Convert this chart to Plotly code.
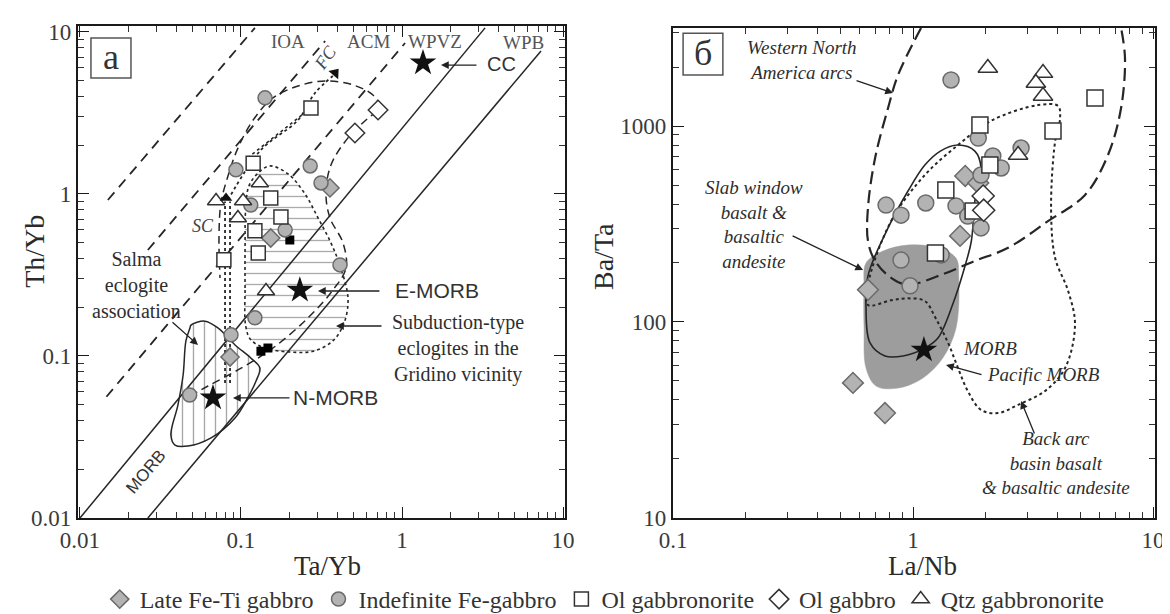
import plotly.graph_objects as go

SERIF = "Liberation Serif"
SANS = "Liberation Sans"
INK = "#262626"

# ---------------- Panel a (Th/Yb vs Ta/Yb) ----------------
late_feti_a_x = [0.153, 0.357, 0.0855]
late_feti_a_y = [0.535, 1.09, 0.0986]
indef_fe_a_x = [0.141, 0.093, 0.269, 0.314, 0.115, 0.188, 0.412, 0.122, 0.048, 0.0867]
indef_fe_a_y = [3.92, 1.41, 1.49, 1.17, 0.855, 0.60, 0.365, 0.172, 0.0574, 0.135]
ol_gn_a_x = [0.272, 0.119, 0.153, 0.177, 0.122, 0.128, 0.0783]
ol_gn_a_y = [3.40, 1.55, 0.944, 0.722, 0.592, 0.432, 0.392]
ol_g_a_x = [0.71, 0.51]
ol_g_a_y = [3.30, 2.38]
qtz_a_x = [0.070, 0.131, 0.0957, 0.103, 0.143]
qtz_a_y = [0.906, 1.17, 0.711, 0.906, 0.252]
black_sq_a_x = [0.133, 0.147, 0.201]
black_sq_a_y = [0.107, 0.112, 0.52]
stars_a_x = [1.35, 0.232, 0.067]          # CC, E-MORB, N-MORB
stars_a_y = [6.44, 0.255, 0.0551]
vec_head_x = [0.384, 0.0807]              # FC, SC arrow heads
vec_head_y = [5.58, 0.944]

morb_line1_x = [0.01, 3.28]
morb_line1_y = [0.01, 10.6]
morb_line2_x = [0.0264, 7.3]
morb_line2_y = [0.01, 7.64]
dash1_x = [0.0149, 0.122]
dash1_y = [0.918, 10.6]
dash2_x = [0.0264, 0.333]
dash2_y = [0.451, 8.8]
dash3_x = [0.0146, 1.045]
dash3_y = [0.056, 8.55]

envelope_x = [0.0482, 0.0624, 0.0957, 0.158, 0.261, 0.372, 0.449, 0.430, 0.357, 0.337, 0.362,
              0.462, 0.615, 0.730, 0.660, 0.497, 0.337, 0.226, 0.158, 0.119, 0.0957, 0.083,
              0.0751, 0.073, 0.0741]
envelope_y = [0.0566, 0.0653, 0.082, 0.112, 0.172, 0.255, 0.349, 0.499, 0.711, 1.01, 1.51,
              2.22, 2.94, 3.40, 4.08, 4.71, 4.99, 4.64, 3.92, 2.86, 1.92, 1.29,
              0.879, 0.535, 0.303]

subd_x = [0.107, 0.106, 0.106, 0.107, 0.112, 0.128, 0.151, 0.196, 0.250, 0.301, 0.362, 0.412,
          0.462, 0.437, 0.372, 0.280, 0.196, 0.141, 0.115, 0.107]
subd_y = [0.153, 0.263, 0.464, 0.820, 1.12, 1.35, 1.49, 1.33, 1.0, 0.711, 0.499, 0.360,
          0.228, 0.160, 0.124, 0.107, 0.106, 0.112, 0.126, 0.153]

salma_x = [0.0489, 0.0597, 0.0719, 0.0918, 0.115, 0.131, 0.124, 0.110, 0.0918, 0.0652,
           0.0469, 0.0389, 0.0367, 0.0406, 0.0437, 0.0455, 0.0482, 0.0489]
salma_y = [0.155, 0.164, 0.149, 0.117, 0.0972, 0.0843, 0.0701, 0.0551, 0.0414, 0.0312,
           0.0278, 0.0282, 0.0325, 0.0499, 0.0763, 0.124, 0.149, 0.155]

fc_x = [0.083, 0.133, 0.226, 0.288, 0.372]
fc_y = [0.918, 1.87, 2.86, 4.20, 5.35]
sq_trend_x = [0.110, 0.272]
sq_trend_y = [1.67, 3.40]
sc1_x = [0.0796, 0.0796]
sc2_x = [0.0855, 0.0855]
sc_y = [0.068, 0.90]

# ---------------- Panel b (Ba/Ta vs La/Nb) ----------------
late_feti_b_x = [1.65, 1.87, 1.57, 0.649, 0.562, 0.764]
late_feti_b_y = [556, 512, 275, 146, 48.9, 34.3]
indef_fe_b_x = [1.44, 1.87, 2.15, 2.33, 2.82, 1.92, 0.772, 0.891, 1.13, 1.51, 1.69, 1.92,
                0.891, 0.972, 1.31]
indef_fe_b_y = [1718, 868, 703, 611, 772, 562, 395, 351, 405, 391, 347, 302, 207, 153, 220]
ol_gn_b_x = [1.90, 3.83, 5.73, 2.09, 1.37, 1.78, 1.24]
ol_gn_b_y = [1012, 942, 1390, 632, 471, 368, 225]
ol_g_b_x = [1.96, 1.97]
ol_g_b_y = [439, 372]
qtz_b_x = [2.05, 3.48, 3.25, 3.48, 2.74]
qtz_b_y = [1977, 1862, 1656, 1422, 711]
star_b_x = [1.11]
star_b_y = [72]

pacific_x = [0.637, 0.750, 0.953, 1.27, 1.51, 1.55, 1.51, 1.33, 1.10, 0.866, 0.702, 0.637,
             0.625, 0.625, 0.637]
pacific_y = [200, 230, 247, 239, 212, 168, 93, 65.5, 51.8, 46, 47.1, 58.2, 93, 149, 200]

slab_x = [0.637, 0.649, 0.787, 0.953, 1.12, 1.30, 1.54, 1.81, 1.92, 1.81, 1.75, 1.65, 1.47,
          1.27, 1.12, 0.909, 0.764, 0.662, 0.637]
slab_y = [118, 172, 302, 466, 632, 745, 800, 745, 611, 414, 259, 195, 125, 82.8, 73.6, 67.1,
          67.1, 78.2, 118]

wna_x = [1.08, 0.866, 0.787, 0.695, 0.649, 0.649, 0.695, 0.810, 0.953, 1.31, 1.81, 2.49,
         3.65, 5.21, 6.49, 7.36, 7.64, 7.36]
wna_y = [3162, 1820, 1236, 687, 382, 259, 205, 168, 155, 174, 205, 239, 327, 445, 711, 1236,
         2223, 3162]

backarc_x = [0.649, 0.810, 1.12, 1.54, 2.11, 3.32, 4.02, 4.10, 3.91, 3.76, 3.91, 4.43, 4.73,
             4.30, 3.55, 2.74, 2.26, 1.92, 1.69, 1.54, 1.40, 1.24, 1.12, 0.953, 0.810, 0.649,
             0.649]
backarc_y = [155, 327, 562, 800, 1062, 1279, 1265, 1099, 838, 382, 212, 144, 96.6, 58.2,
             44.5, 37.8, 34.3, 35.6, 44.5, 58.2, 78.2, 105, 128, 132, 129, 122, 155]

legend_names = ["Late Fe-Ti gabbro", "Indefinite Fe-gabbro", "Ol gabbronorite", "Ol gabbro",
                "Qtz gabbronorite"]

GRAY_FILL = "#b3b3b3"
GRAY_EDGE = "#6a6a6a"

fig = go.Figure()


def line(x, y, xa, ya, dash="solid", width=1.5, color=INK, shape="linear"):
    fig.add_trace(go.Scatter(x=x, y=y, xaxis=xa, yaxis=ya, mode="lines", showlegend=False,
                             hoverinfo="skip",
                             line=dict(color=color, width=width, dash=dash, shape=shape)))


# --- panel a fields ---
fig.add_trace(go.Scatter(x=salma_x, y=salma_y, xaxis="x", yaxis="y", mode="lines",
                         fill="toself", fillcolor="rgba(255,255,255,0)",
                         fillpattern=dict(shape="|", size=11, solidity=0.12, fgcolor="#4a4a4a",
                                          bgcolor="rgba(255,255,255,0)"),
                         line=dict(color=INK, width=1.5, shape="spline"), showlegend=False,
                         hoverinfo="skip"))
fig.add_trace(go.Scatter(x=subd_x, y=subd_y, xaxis="x", yaxis="y", mode="lines",
                         fill="toself", fillcolor="rgba(255,255,255,0)",
                         fillpattern=dict(shape="-", size=11, solidity=0.12, fgcolor="#555555",
                                          bgcolor="rgba(255,255,255,0)"),
                         line=dict(color=INK, width=1.6, dash="dot", shape="spline"),
                         showlegend=False, hoverinfo="skip"))

line(morb_line1_x, morb_line1_y, "x", "y", width=1.5)
line(morb_line2_x, morb_line2_y, "x", "y", width=1.5)
for dx, dy in [(dash1_x, dash1_y), (dash2_x, dash2_y), (dash3_x, dash3_y)]:
    line(dx, dy, "x", "y", dash="10px,7px", width=1.8)
line(envelope_x, envelope_y, "x", "y", dash="8px,5px", width=1.5, shape="spline")
line(fc_x, fc_y, "x", "y", dash="dot", width=1.8, shape="spline")
line(sq_trend_x, sq_trend_y, "x", "y", dash="dot", width=1.6)
line(sc1_x, sc_y, "x", "y", dash="dot", width=1.8)
line(sc2_x, sc_y, "x", "y", dash="dot", width=1.8)

# --- panel b fields ---
fig.add_trace(go.Scatter(x=pacific_x, y=pacific_y, xaxis="x2", yaxis="y2", mode="lines",
                         fill="toself", fillcolor="#9d9d9d",
                         line=dict(color="#9d9d9d", width=0.5, shape="spline"),
                         showlegend=False, hoverinfo="skip"))
line(slab_x, slab_y, "x2", "y2", width=1.6, shape="spline")
line(wna_x, wna_y, "x2", "y2", dash="13px,6px", width=2.2, shape="spline")
line(backarc_x, backarc_y, "x2", "y2", dash="dot", width=2.0, shape="spline")

# --- markers ---
styles = [
    dict(symbol="diamond", size=14, color=GRAY_FILL, line=dict(color=GRAY_EDGE, width=1.5)),
    dict(symbol="circle", size=14, color=GRAY_FILL, line=dict(color=GRAY_EDGE, width=1.5)),
    dict(symbol="square", size=14, color="white", line=dict(color="#333333", width=1.5)),
    dict(symbol="diamond", size=15, color="white", line=dict(color="#333333", width=1.5)),
    dict(symbol="triangle-up", size=15, color="white", line=dict(color="#333333", width=1.5)),
]
a_sets = [(late_feti_a_x, late_feti_a_y), (indef_fe_a_x, indef_fe_a_y), (ol_gn_a_x, ol_gn_a_y),
          (ol_g_a_x, ol_g_a_y), (qtz_a_x, qtz_a_y)]
b_sets = [(late_feti_b_x, late_feti_b_y), (indef_fe_b_x, indef_fe_b_y), (ol_gn_b_x, ol_gn_b_y),
          (ol_g_b_x, ol_g_b_y), (qtz_b_x, qtz_b_y)]

fig.add_trace(go.Scatter(x=black_sq_a_x, y=black_sq_a_y, xaxis="x", yaxis="y", mode="markers",
                         marker=dict(symbol="square", size=9, color="black"),
                         showlegend=False, hoverinfo="skip"))
for name, st, (ax_, ay_), (bx_, by_) in zip(legend_names, styles, a_sets, b_sets):
    fig.add_trace(go.Scatter(x=ax_, y=ay_, xaxis="x", yaxis="y", mode="markers", name=name,
                             legendgroup=name, marker=st, showlegend=True))
    stb = dict(st)
    stb["size"] = st["size"] + 2
    fig.add_trace(go.Scatter(x=bx_, y=by_, xaxis="x2", yaxis="y2", mode="markers", name=name,
                             legendgroup=name, marker=stb, showlegend=False))

fig.add_trace(go.Scatter(x=stars_a_x, y=stars_a_y, xaxis="x", yaxis="y", mode="markers",
                         marker=dict(symbol="star", size=20, color="#111111"),
                         showlegend=False, hoverinfo="skip"))
fig.add_trace(go.Scatter(x=vec_head_x, y=vec_head_y, xaxis="x", yaxis="y", mode="markers",
                         marker=dict(symbol="triangle-up", size=11, color="#111111",
                                     angle=[40, 0]),
                         showlegend=False, hoverinfo="skip"))
fig.add_trace(go.Scatter(x=star_b_x, y=star_b_y, xaxis="x2", yaxis="y2", mode="markers",
                         marker=dict(symbol="star", size=20, color="#111111"),
                         showlegend=False, hoverinfo="skip"))

# --- axes ---
def axis(rng, domain, anchor):
    return dict(type="log", range=rng, domain=domain, anchor=anchor, automargin=False,
                showgrid=False, zeroline=False, showline=True, linecolor="#1a1a1a",
                linewidth=2.2, mirror="allticks", ticks="inside", ticklen=11, tickwidth=1.4,
                tickcolor="#1a1a1a", dtick=1, tickformat="~g",
                tickfont=dict(family=SERIF, size=23, color="#3a3a3a"),
                minor=dict(ticks="inside", ticklen=6, tickwidth=1.1, tickcolor="#333333",
                           dtick="D1", showgrid=False))

fig.update_layout(
    xaxis=axis([-2.0125, 1.0125], [0.0598, 0.4761], "y"),
    yaxis=axis([-2.0, 1.037], [0.1694, 0.9707], "x"),
    xaxis2=axis([-1.0, 1.008], [0.5684, 0.9803], "y2"),
    yaxis2=axis([1.0, 3.5], [0.1694, 0.9674], "x2"),
)

anns = []


def txt(x, y, text, ref="", size=20, family=SERIF, angle=0, color="#2e2e2e", xanchor="center",
        italic=False):
    if italic:
        text = "<i>" + text + "</i>"
    d = dict(x=x, y=y, text=text, showarrow=False, font=dict(family=family, size=size,
             color=color), textangle=angle, xanchor=xanchor, yanchor="middle")
    if ref == "paper":
        d.update(xref="paper", yref="paper")
    else:
        d.update(xref="x" + ref, yref="y" + ref)
    anns.append(d)


def arrow(x, y, axp, ayp, ref=""):
    anns.append(dict(x=x, y=y, xref="x" + ref, yref="y" + ref, text="", showarrow=True,
                     arrowhead=2, arrowsize=1.2, arrowwidth=1.3, arrowcolor="#222222",
                     ax=axp, ay=ayp, standoff=0))

# panel a labels (log10 coordinates)
txt(-0.708, 0.944, "IOA", size=19, color="#555555")
txt(-0.211, 0.944, "ACM", size=19, color="#555555")
txt(0.205, 0.944, "WPVZ", size=19, color="#555555")
txt(0.752, 0.935, "WPB", size=19, color="#555555")
txt(-0.478, 0.840, "FC", size=18, angle=-55, italic=True, color="#444444")
txt(-1.236, -0.198, "SC", size=18, italic=True, color="#444444")
txt(-1.590, -1.710, "MORB", size=17, family=SANS, angle=-50, color="#333333")
txt(0.516, 0.800, "CC", size=20, family=SANS, xanchor="left", color="#333333")
arrow(0.242, 0.796, 37, 0)
txt(-0.056, -0.593, "E-MORB", size=21, family=SANS, xanchor="left", color="#333333")
arrow(-0.522, -0.599, 63, 0)
txt(-0.689, -1.259, "N-MORB", size=21, family=SANS, xanchor="left", color="#333333")
arrow(-1.050, -1.259, 58, 0)
txt(0.348, -0.951, "Subduction-type<br>eclogites in the<br>Gridino vicinity", size=20)
arrow(-0.410, -0.815, 47, 0)
txt(-1.652, -0.562, "Salma<br>eclogite<br>association", size=20)
arrow(-1.267, -0.932, -27, -24)

# panel b labels
txt(-0.4625, 3.337, "Western North<br>America arcs", ref="2", size=19, italic=True)
arrow(-0.0833, 3.168, -38, -13, ref="2")
txt(-0.6625, 2.5, "Slab window<br>basalt &amp;<br>basaltic<br>andesite", ref="2", size=19,
    italic=True)
arrow(-0.208, 2.265, -72, -35, ref="2")
txt(0.321, 1.867, "MORB", ref="2", size=19, italic=True)
txt(0.300, 1.730, "Pacific MORB", ref="2", size=19, italic=True, xanchor="left")
arrow(0.1375, 1.781, 37, 10, ref="2")
txt(0.596, 1.281, "Back arc<br>basin basalt<br>&amp; basaltic andesite", ref="2", size=19,
    italic=True)
arrow(0.45, 1.597, 14, 34, ref="2")

# axis titles
txt(0.0231, 0.603, "Th/Yb", ref="paper", size=28, angle=-90, color="#2a2a2a")
txt(0.2735, 0.092, "Ta/Yb", ref="paper", size=27, color="#2a2a2a")
txt(0.5085, 0.596, "Ba/Ta", ref="paper", size=28, angle=-90, color="#2a2a2a")
txt(0.782, 0.092, "La/Nb", ref="paper", size=27, color="#2a2a2a")
# panel letters
txt(0.088, 0.921, "а", ref="paper", size=36, color="#333333")
txt(0.594, 0.927, "б", ref="paper", size=36, color="#333333")

shapes = [
    dict(type="rect", xref="paper", yref="paper", x0=0.0709, x1=0.1051, y0=0.886, y1=0.951,
         line=dict(color="#555555", width=1.5)),
    dict(type="rect", xref="paper", yref="paper", x0=0.577, x1=0.611, y0=0.891, y1=0.959,
         line=dict(color="#555555", width=1.5)),
]

fig.update_layout(
    width=1170, height=614, margin=dict(l=0, r=0, t=0, b=0, autoexpand=False),
    paper_bgcolor="white", plot_bgcolor="white",
    annotations=anns, shapes=shapes,
    legend=dict(orientation="h", x=0.51, xanchor="center", y=0.0, yanchor="bottom",
                font=dict(family=SERIF, size=24, color="#333333"), itemwidth=30,
                bgcolor="rgba(0,0,0,0)"),
)

fig.write_html("out.html")
